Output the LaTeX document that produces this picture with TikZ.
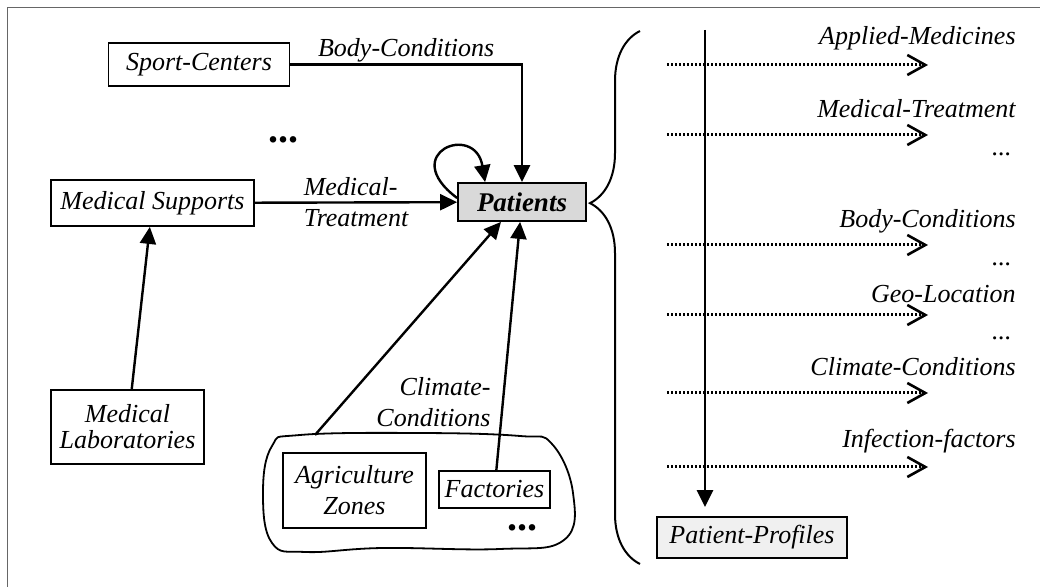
\documentclass[tikz,border=0pt]{standalone}
\usepackage{fontspec}
\setmainfont{Liberation Serif}
\usepackage{tikz}
\usetikzlibrary{arrows.meta, positioning, calc, decorations.pathreplacing}

\newcommand{\figfont}{\fontsize{13}{15.5}\selectfont}
\tikzstyle{entity} = [rectangle, draw=black, line width=0.9pt, inner sep=1pt, align=center, font=\figfont\itshape]
\tikzstyle{hub} = [entity, fill=black!15, font=\fontsize{13.5}{15.5}\selectfont\bfseries\itshape]
\tikzstyle{profile} = [entity, fill=black!6]
\tikzstyle{lbl} = [inner sep=0pt, font=\figfont\itshape]
\tikzstyle{more} = [inner sep=0pt, font=\fontsize{20}{20}\selectfont\bfseries]
\tikzstyle{arrow} = [line width=1.2pt, -{Triangle[length=8.5pt,width=8pt]}]
\tikzstyle{flow} = [line width=1.5pt, dash pattern=on 1pt off 1pt, -{Straight Barb[length=9pt,width=10pt,line width=1.3pt]}]

\begin{document}
\begin{tikzpicture}[x=0.5pt, y=-0.5pt]
\useasboundingbox (0,0) rectangle (1040,587);
% frame
\draw[black!60, line width=0.6pt] (7.5,600) -- (7.5,7.5) -- (1045,7.5);

% sources
\node (sport) [entity, minimum width=90.5pt, minimum height=21.5pt] at (199,64.5) {Sport-Centers};
\node (medsup) [entity, minimum width=101.5pt, minimum height=23pt] at (152.5,203) {Medical Supports};
\node (patients) [hub, minimum width=64pt, minimum height=19pt] at (522,202) {Patients};
\node (medlab) [entity, minimum width=76.5pt, minimum height=37pt] at (127.5,427) {Medical\\[-2.5pt]Laboratories};
\node (agri) [entity, minimum width=71.5pt, minimum height=37.5pt] at (354.5,490.5) {Agriculture\\Zones};
\node (fact) [entity, minimum width=55.5pt, minimum height=18.5pt] at (494.5,489.5) {Factories};
\node (dots1) [more, anchor=base west] at (268,143) {...};
\node (dots2) [more, anchor=base west] at (507,531) {...};
\node (climlbl) [lbl, align=right, anchor=east] at (491,402) {Climate-\\Conditions};

% zone outline
\draw[line width=0.9pt] plot[smooth cycle, tension=0.7] coordinates {(300,435) (420,433) (520,436) (552,444) (573,493) (564,540) (500,549) (383,548) (306,552) (272,543) (263,493) (272,446)};
\coordinate (zone) at (315,435);

\draw[arrow] (sport) -| node[lbl, pos=0.25, above=0.5pt] {Body-Conditions} (patients);
\draw[arrow] (medsup) -- node[lbl, align=left] {Medical-\\Treatment} (patients);
\draw[arrow] (medlab) -- (medsup);
\draw[arrow] (zone) -- ([xshift=-10.5pt]patients.south);
\draw[arrow] (fact) -- (patients);
\draw[arrow] ([yshift=2pt]patients.west) .. controls +(-60,-45) and +(-10,-60) .. ([xshift=14pt]patients.north west);

% profile side
\draw[line width=1pt, decorate, decoration={brace, amplitude=25pt, aspect=0.677}] (640,564) -- (640,31);
\node (profiles) [profile, minimum width=95pt, minimum height=20.5pt] at (752,537.5) {Patient-Profiles};
\coordinate (feed) at (705,30);
\draw[arrow, shorten >=4.5pt] (feed) -- (feed |- profiles.north);

\foreach \i/\y/\b/\txt in {1/65/45/Applied-Medicines, 2/135/118/Medical-Treatment, 3/245/228/Body-Conditions, 4/315/303/Geo-Location, 5/393/376/Climate-Conditions, 6/467/448/Infection-factors}{
  \coordinate (src\i) at (667,\y);
  \coordinate (dst\i) at (928,\y);
  \draw[flow] (src\i) -- (dst\i);
  \node (attr\i) [lbl, anchor=base east] at (1016,\b) {\txt};
}
\foreach \i/\b in {1/156, 2/266, 3/340}
  \node (etc\i) [lbl, anchor=base east] at (1012,\b) {...};
\end{tikzpicture}
\end{document}
